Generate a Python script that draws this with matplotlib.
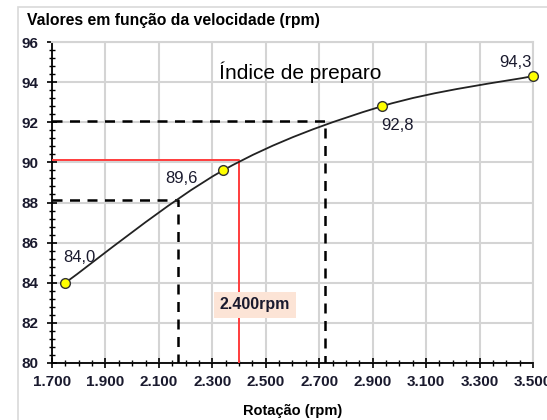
import matplotlib.pyplot as plt
from matplotlib.path import Path
from matplotlib.patches import PathPatch, Rectangle
from matplotlib.ticker import MultipleLocator, FuncFormatter

plt.rcParams['font.family'] = ['Liberation Sans', 'DejaVu Sans']

# pontos medidos
rotacao = [1750, 2340, 2935, 3500]
indice = [84.0, 89.6, 92.8, 94.3]
rotulos = ['84,0', '89,6', '92,8', '94,3']
rotulo_offset = [(10, 18), (-30, -6), (11, -14), (-13, 10)]

# linhas de leitura (x, y)
leitura_preta = [(2171, 88.1), (2722, 92.05)]
leitura_vermelha = (2400, 90.1)

fig = plt.figure(figsize=(5.47, 4.2), dpi=100)
fig.patches.append(Rectangle((18 / 547, -0.1), 1.2, (420 - 7) / 420 + 0.1,
                             transform=fig.transFigure, fill=False,
                             edgecolor='#d9d9d9', linewidth=1.2))
ax = fig.add_axes([52 / 547, 57 / 420, 481 / 547, 321 / 420])

ax.set_xlim(1700, 3500)
ax.set_ylim(80, 96)
ax.xaxis.set_major_locator(MultipleLocator(200, offset=100))
ax.xaxis.set_minor_locator(MultipleLocator(50))
ax.yaxis.set_major_locator(MultipleLocator(2))
ax.yaxis.set_minor_locator(MultipleLocator(0.4))
ax.xaxis.set_major_formatter(FuncFormatter(lambda v, p: f'{v / 1000:.3f}'))
ax.grid(True, which='major', color='#d4d4d4', linewidth=1.5)
ax.set_axisbelow(True)
ax.tick_params(which='major', direction='inout', length=7, width=1.2,
               labelsize=11, pad=5)
ax.tick_params(which='minor', direction='inout', length=4, width=1)
ax.tick_params(axis='y', pad=6)
for lab in ax.get_xticklabels() + ax.get_yticklabels():
    lab.set_fontweight('bold')
    lab.set_color('#1a1a2e')
for s in ['top', 'right']:
    ax.spines[s].set_color('#d4d4d4')
    ax.spines[s].set_linewidth(1.5)
for s in ['left', 'bottom']:
    ax.spines[s].set_linewidth(1.3)

# linhas de leitura
for x, y in leitura_preta:
    ax.plot([1700, x, x], [y, y, 80], color='black', linestyle=(0, (4, 3)),
            linewidth=1.8, zorder=3)
xr, yr = leitura_vermelha
ax.plot([1700, xr, xr], [yr, yr, 80], color='#ff3c3c', linewidth=1.4, zorder=3)

# curva suavizada (Bezier tipo Excel)
pts = list(zip(rotacao, indice))
verts = [pts[0]]
codes = [Path.MOVETO]
n = len(pts)
for i in range(n - 1):
    p0 = pts[max(i - 1, 0)]
    p1 = pts[i]
    p2 = pts[i + 1]
    p3 = pts[min(i + 2, n - 1)]
    c1 = (p1[0] + (p2[0] - p0[0]) / 6, p1[1] + (p2[1] - p0[1]) / 6)
    c2 = (p2[0] - (p3[0] - p1[0]) / 6, p2[1] - (p3[1] - p1[1]) / 6)
    verts += [c1, c2, p2]
    codes += [Path.CURVE4] * 3
ax.add_patch(PathPatch(Path(verts, codes), fill=False, edgecolor='#222222',
                       linewidth=1.3, zorder=4))

ax.plot(rotacao, indice, linestyle='none', marker='o', markersize=7,
        markerfacecolor='#ffff00', markeredgecolor='#333333',
        markeredgewidth=1.0, zorder=5, clip_on=False)
for x, y, t, off in zip(rotacao, indice, rotulos, rotulo_offset):
    ax.annotate(t, (x, y), xytext=off, textcoords='offset points',
                ha='center', va='center', fontsize=12, color='#1a1a2e',
                zorder=6)

ax.text(2628, 94.5, 'Índice de preparo', fontsize=15, ha='center', va='center')
ax.text(2460, 82.9, '2.400rpm', fontsize=11.5, ha='center', va='center',
        fontweight='bold', color='#1a1a2e', zorder=6,
        bbox=dict(boxstyle='square,pad=0.35', facecolor='#fce4d6',
                  edgecolor='none'))

fig.text(27 / 547, 1 - 20 / 420, 'Valores em função da velocidade (rpm)',
         fontsize=11.3, fontweight='bold', ha='left', va='center')
ax.set_xlabel('Rotação (rpm)', fontsize=10.5, fontweight='bold', labelpad=11)

fig.savefig('out.png', dpi=100)
